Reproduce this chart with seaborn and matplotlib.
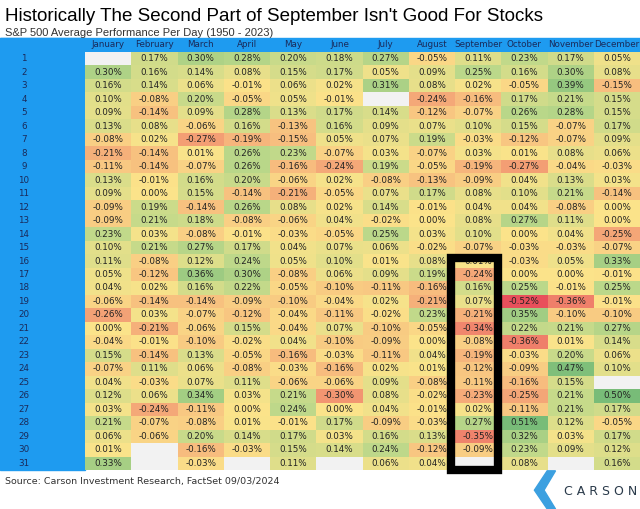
import numpy as np
import pandas as pd
import seaborn as sns
import matplotlib
matplotlib.use("Agg")
import matplotlib.pyplot as plt
from matplotlib.colors import LinearSegmentedColormap
from matplotlib.patches import Rectangle, Polygon

months = ["January","February","March","April","May","June","July","August",
          "September","October","November","December"]
days = list(range(1, 32))
N = np.nan
jan = [N,.30,.16,.10,.09,.13,-.08,-.21,-.11,.13,.09,-.09,-.09,.23,.10,.11,.05,.04,-.06,-.26,0.00,-.04,.15,-.07,.04,.12,.03,.21,.06,.01,.33]
feb = [.17,.16,.14,-.08,-.14,.08,.02,-.14,-.14,-.01,0.00,.19,.21,.03,.21,-.08,-.12,.02,-.14,.03,-.21,-.01,-.14,.11,-.03,.06,-.24,-.07,-.06,N,N]
mar = [.30,.14,.06,.20,.09,-.06,-.27,.01,-.07,.16,.15,-.14,.18,-.08,.27,.12,.36,.16,-.14,-.07,-.06,-.10,.13,.06,.07,.34,-.11,-.08,.20,-.16,-.03]
apr = [.28,.08,-.01,-.05,.28,.16,-.19,.26,.26,.20,-.14,.26,-.08,-.01,.17,.24,.30,.22,-.09,-.12,.15,-.02,-.05,-.08,.11,.03,0.00,.01,.14,-.03,N]
may = [.20,.15,.06,.05,.13,-.13,-.15,.23,-.16,-.06,-.21,.08,-.06,-.03,.04,.05,-.08,-.05,-.10,-.04,-.04,.04,-.16,-.03,-.06,.21,.24,-.01,.17,.15,.11]
jun = [.18,.17,.02,-.01,.17,.16,.05,-.07,-.24,.02,-.05,.02,.04,-.05,.07,.10,.06,-.10,-.04,-.11,.07,-.10,-.03,-.16,-.06,-.30,0.00,.17,.03,.14,N]
jul = [.27,.05,.31,N,.14,.09,.07,.03,.19,-.08,.07,.14,-.02,.25,.06,.01,.09,-.11,.02,-.02,-.10,-.09,-.11,.02,.09,.08,.04,-.09,.16,.24,.06]
aug = [-.05,.09,.08,-.24,-.12,.07,.19,-.07,-.05,-.13,.17,-.01,0.00,.03,-.02,.08,.19,-.16,-.21,.23,-.05,0.00,.04,.01,-.08,-.02,-.01,-.03,.13,-.12,.04]
sep = [.11,.25,.02,-.16,-.07,.10,-.03,.03,-.19,-.09,.08,.04,.08,.10,-.07,.01,-.24,.16,.07,-.21,-.34,-.08,-.19,-.12,-.11,-.23,.02,.27,-.35,-.09,N]
oct_ = [.23,.16,-.05,.17,.26,.15,-.12,.01,-.27,.04,.10,.04,.27,0.00,-.03,-.03,0.00,.25,-.52,.35,.22,-.36,-.03,-.09,-.16,-.25,-.11,.51,.32,.23,.08]
nov = [.17,.30,.39,.21,.28,-.07,-.07,.08,-.04,.13,.21,-.08,.11,.04,-.03,.05,0.00,-.01,-.36,-.10,.21,.01,.20,.47,.15,.21,.21,.12,.03,.09,N]
dec = [.05,.08,-.15,.15,.15,.17,.09,.06,-.03,.03,-.14,0.00,0.00,-.25,-.07,.33,-.01,.25,-.01,-.10,.27,.14,.06,.10,N,.50,.17,-.05,.17,.12,.16]

df = pd.DataFrame(np.array([jan,feb,mar,apr,may,jun,jul,aug,sep,oct_,nov,dec]).T,
                  index=days, columns=months)
annot = df.map(lambda v: "" if pd.isna(v) else f"{v:.2f}%")

cmap = LinearSegmentedColormap.from_list("exc", ["#E8505B", "#F4A677", "#FBE38A", "#BCD88A", "#78BC78"])
cmap.set_bad("#F2F2F2")

fig = plt.figure(figsize=(6.4, 5.09), dpi=100)
BLUE = "#1E9BF0"
fig.patches.append(Rectangle((0, 1-470/509), 85/640, (470-38)/509, transform=fig.transFigure,
                             color=BLUE, zorder=-2))
fig.patches.append(Rectangle((0, 1-52/509), 1, 14/509, transform=fig.transFigure,
                             color=BLUE, zorder=-2))
ax = fig.add_axes([85/640, 1-470/509, 555/640, (470-52)/509])
sns.heatmap(df, ax=ax, cmap=cmap, vmin=-0.5, vmax=0.5, annot=annot, fmt="",
            cbar=False, annot_kws={"fontsize": 6.3, "color": "#222222"}, mask=df.isna(),
            xticklabels=True, yticklabels=True)
ax.set_facecolor("#F2F2F2")
ax.patch.set_alpha(1)
ax.set_xlabel("")
ax.xaxis.tick_top()
ax.set_xticklabels(months, fontsize=6.3, color="#1a2a5a")
ax.set_yticklabels(days, fontsize=6.3, color="#1a2a5a", rotation=0)
ax.tick_params(length=0, pad=2)
ax.tick_params(axis="y", pad=44)
for t in ax.get_yticklabels():
    t.set_horizontalalignment("center")
ax.add_patch(Rectangle((8 - 0.08, 15.25), 1.02, 15.75, fill=False, lw=6,
                       edgecolor="black", clip_on=False, zorder=5))

fig.text(0.008, 0.985, "Historically The Second Part of September Isn't Good For Stocks",
         fontsize=13.5, va="top", family="Liberation Sans")
fig.text(0.008, 0.945, "S&P 500 Average Performance Per Day (1950 - 2023)",
         fontsize=8, va="top", family="Liberation Sans", color="#333333")
fig.text(0.008, 0.055, "Source: Carson Investment Research, FactSet 09/03/2024",
         fontsize=6.8, va="center", color="#333333")
fig.text(0.995, 0.035, "C A R S O N", fontsize=9, ha="right", va="center", color="#2a3a4a")
fig.patches.append(Polygon([(0.835, 0.037), (0.855, 0.075), (0.868, 0.075), (0.85, 0.037),
                            (0.868, 0.0), (0.855, 0.0)],
                           closed=True, transform=fig.transFigure, color="#3CA0E0"))
fig.savefig("out.png", dpi=100)
